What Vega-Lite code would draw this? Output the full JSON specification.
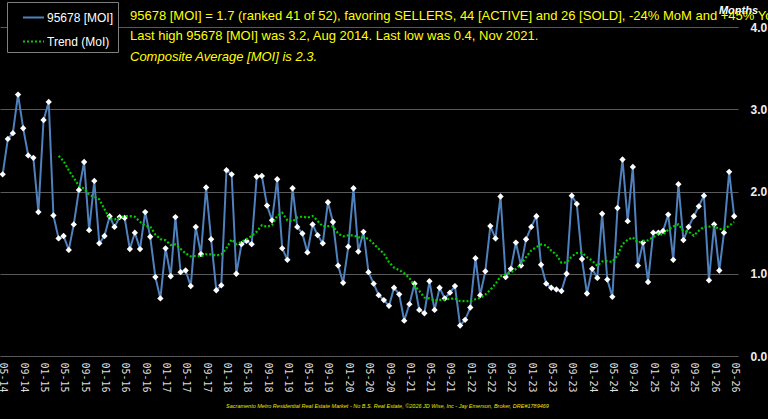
{
  "$schema": "https://vega.github.io/schema/vega-lite/v6.json",
  "autosize": {"type": "none"},
  "width": 738,
  "height": 356,
  "padding": {"left": 0, "top": 0, "right": 30, "bottom": 63},
  "background": "#000000",
  "config": {
    "view": {"stroke": null},
    "font": "Liberation Sans",
    "legend": {
      "fillColor": "#000000",
      "strokeColor": "#7f7f7f",
      "padding": 4,
      "symbolType": "stroke",
      "symbolSize": 441,
      "symbolStrokeWidth": 2,
      "symbolOffset": 11,
      "labelOffset": 2,
      "labelFont": "Liberation Sans",
      "labelFontSize": 12,
      "labelColor": "#ffffff",
      "rowPadding": 6
    },
    "axisY": {
      "grid": true,
      "gridColor": "#5a5a5a",
      "gridWidth": 1.2,
      "domain": false,
      "ticks": false,
      "labelPadding": 12,
      "labelFont": "Liberation Sans",
      "labelFontSize": 12,
      "labelFontWeight": "bold",
      "labelColor": "#eeeeee",
      "labelAlign": "left",
      "labelBaseline": "middle",
      "titleAngle": 0,
      "titleX": 0,
      "titleY": 13,
      "titleAlign": "center",
      "titleBaseline": "alphabetic",
      "titleFont": "Liberation Sans",
      "titleFontSize": 11,
      "titleFontStyle": "italic",
      "titleFontWeight": "bold",
      "titleColor": "#ffffff"
    }
  },
  "title": {
    "text": [
      "95678 [MOI] = 1.7 (ranked 41 of 52), favoring SELLERS, 44 [ACTIVE] and 26 [SOLD], -24% MoM and +45% YoY",
      "Last high 95678 [MOI] was 3.2, Aug 2014. Last low was 0.4, Nov 2021."
    ],
    "subtitle": "Composite Average [MOI] is 2.3.",
    "anchor": "start",
    "frame": "group",
    "orient": "top",
    "dx": 130,
    "offset": -64,
    "font": "Liberation Sans",
    "fontSize": 13,
    "fontWeight": "normal",
    "color": "#ffff00",
    "lineHeight": 19.7,
    "subtitleFont": "Liberation Sans",
    "subtitleFontSize": 13,
    "subtitleFontStyle": "italic",
    "subtitleColor": "#ffff00",
    "subtitlePadding": 8
  },
  "data": {
    "format": {"parse": {"month": "date:'%Y-%m'"}},
    "values": [
      {"month": "2014-05", "moi": 2.21}, {"month": "2014-06", "moi": 2.64}, {"month": "2014-07", "moi": 2.71}, {"month": "2014-08", "moi": 3.18},
      {"month": "2014-09", "moi": 2.77}, {"month": "2014-10", "moi": 2.44}, {"month": "2014-11", "moi": 2.41}, {"month": "2014-12", "moi": 1.75},
      {"month": "2015-01", "moi": 2.87}, {"month": "2015-02", "moi": 3.09}, {"month": "2015-03", "moi": 1.71}, {"month": "2015-04", "moi": 1.43},
      {"month": "2015-05", "moi": 1.46}, {"month": "2015-06", "moi": 1.29}, {"month": "2015-07", "moi": 1.60}, {"month": "2015-08", "moi": 2.02},
      {"month": "2015-09", "moi": 2.36}, {"month": "2015-10", "moi": 1.53}, {"month": "2015-11", "moi": 2.13}, {"month": "2015-12", "moi": 1.37},
      {"month": "2016-01", "moi": 1.46}, {"month": "2016-02", "moi": 1.70}, {"month": "2016-03", "moi": 1.57}, {"month": "2016-04", "moi": 1.69},
      {"month": "2016-05", "moi": 1.68}, {"month": "2016-06", "moi": 1.30}, {"month": "2016-07", "moi": 1.50}, {"month": "2016-08", "moi": 1.30},
      {"month": "2016-09", "moi": 1.75}, {"month": "2016-10", "moi": 1.45}, {"month": "2016-11", "moi": 0.96}, {"month": "2016-12", "moi": 0.70},
      {"month": "2017-01", "moi": 1.31}, {"month": "2017-02", "moi": 0.97}, {"month": "2017-03", "moi": 1.69}, {"month": "2017-04", "moi": 1.02},
      {"month": "2017-05", "moi": 1.04}, {"month": "2017-06", "moi": 0.85}, {"month": "2017-07", "moi": 1.57}, {"month": "2017-08", "moi": 1.24},
      {"month": "2017-09", "moi": 2.05}, {"month": "2017-10", "moi": 1.42}, {"month": "2017-11", "moi": 0.80}, {"month": "2017-12", "moi": 0.86},
      {"month": "2018-01", "moi": 2.26}, {"month": "2018-02", "moi": 2.21}, {"month": "2018-03", "moi": 1.00}, {"month": "2018-04", "moi": 1.36},
      {"month": "2018-05", "moi": 1.40}, {"month": "2018-06", "moi": 1.36}, {"month": "2018-07", "moi": 2.18}, {"month": "2018-08", "moi": 2.19},
      {"month": "2018-09", "moi": 1.83}, {"month": "2018-10", "moi": 1.65}, {"month": "2018-11", "moi": 2.15}, {"month": "2018-12", "moi": 1.31},
      {"month": "2019-01", "moi": 1.17}, {"month": "2019-02", "moi": 2.04}, {"month": "2019-03", "moi": 1.57}, {"month": "2019-04", "moi": 1.49},
      {"month": "2019-05", "moi": 1.26}, {"month": "2019-06", "moi": 1.60}, {"month": "2019-07", "moi": 1.47}, {"month": "2019-08", "moi": 1.37},
      {"month": "2019-09", "moi": 1.87}, {"month": "2019-10", "moi": 1.63}, {"month": "2019-11", "moi": 1.10}, {"month": "2019-12", "moi": 0.89},
      {"month": "2020-01", "moi": 1.33}, {"month": "2020-02", "moi": 2.04}, {"month": "2020-03", "moi": 1.27}, {"month": "2020-04", "moi": 1.51},
      {"month": "2020-05", "moi": 1.02}, {"month": "2020-06", "moi": 0.88}, {"month": "2020-07", "moi": 0.74}, {"month": "2020-08", "moi": 0.68},
      {"month": "2020-09", "moi": 0.61}, {"month": "2020-10", "moi": 0.83}, {"month": "2020-11", "moi": 0.75}, {"month": "2020-12", "moi": 0.43},
      {"month": "2021-01", "moi": 0.63}, {"month": "2021-02", "moi": 0.88}, {"month": "2021-03", "moi": 0.56}, {"month": "2021-04", "moi": 0.52},
      {"month": "2021-05", "moi": 0.91}, {"month": "2021-06", "moi": 0.56}, {"month": "2021-07", "moi": 0.83}, {"month": "2021-08", "moi": 0.70},
      {"month": "2021-09", "moi": 0.77}, {"month": "2021-10", "moi": 0.85}, {"month": "2021-11", "moi": 0.37}, {"month": "2021-12", "moi": 0.44},
      {"month": "2022-01", "moi": 0.59}, {"month": "2022-02", "moi": 1.19}, {"month": "2022-03", "moi": 0.74}, {"month": "2022-04", "moi": 1.03},
      {"month": "2022-05", "moi": 1.58}, {"month": "2022-06", "moi": 1.43}, {"month": "2022-07", "moi": 1.94}, {"month": "2022-08", "moi": 0.96},
      {"month": "2022-09", "moi": 1.06}, {"month": "2022-10", "moi": 1.38}, {"month": "2022-11", "moi": 1.10}, {"month": "2022-12", "moi": 1.42},
      {"month": "2023-01", "moi": 1.57}, {"month": "2023-02", "moi": 1.70}, {"month": "2023-03", "moi": 1.11}, {"month": "2023-04", "moi": 0.88},
      {"month": "2023-05", "moi": 0.83}, {"month": "2023-06", "moi": 0.81}, {"month": "2023-07", "moi": 0.79}, {"month": "2023-08", "moi": 1.00},
      {"month": "2023-09", "moi": 1.95}, {"month": "2023-10", "moi": 1.85}, {"month": "2023-11", "moi": 1.18}, {"month": "2023-12", "moi": 0.76},
      {"month": "2024-01", "moi": 1.06}, {"month": "2024-02", "moi": 0.95}, {"month": "2024-03", "moi": 1.73}, {"month": "2024-04", "moi": 0.93},
      {"month": "2024-05", "moi": 0.72}, {"month": "2024-06", "moi": 1.80}, {"month": "2024-07", "moi": 2.39}, {"month": "2024-08", "moi": 1.64},
      {"month": "2024-09", "moi": 2.30}, {"month": "2024-10", "moi": 1.10}, {"month": "2024-11", "moi": 1.38}, {"month": "2024-12", "moi": 0.90},
      {"month": "2025-01", "moi": 1.50}, {"month": "2025-02", "moi": 1.50}, {"month": "2025-03", "moi": 1.52}, {"month": "2025-04", "moi": 1.72},
      {"month": "2025-05", "moi": 1.17}, {"month": "2025-06", "moi": 2.09}, {"month": "2025-07", "moi": 1.41}, {"month": "2025-08", "moi": 1.57},
      {"month": "2025-09", "moi": 1.70}, {"month": "2025-10", "moi": 1.82}, {"month": "2025-11", "moi": 1.95}, {"month": "2025-12", "moi": 0.92},
      {"month": "2026-01", "moi": 1.60}, {"month": "2026-02", "moi": 1.04}, {"month": "2026-03", "moi": 1.50}, {"month": "2026-04", "moi": 2.24},
      {"month": "2026-05", "moi": 1.70}
    ]
  },
  "transform": [
    {
      "window": [{"op": "mean", "field": "moi", "as": "trend"}, {"op": "count", "as": "span"}],
      "frame": [-11, 0],
      "sort": [{"field": "month"}]
    }
  ],
  "encoding": {
    "x": {
      "field": "month",
      "type": "temporal",
      "scale": {"domain": [{"year": 2014, "month": "apr", "date": 15}, {"year": 2026, "month": "may", "date": 24}]},
      "axis": {
        "tickCount": {"interval": "month", "step": 4},
        "format": "%m-%y",
        "labelAngle": 90,
        "labelAlign": "left",
        "labelBaseline": "middle",
        "labelPadding": 6,
        "labelFont": "DejaVu Sans Mono",
        "labelFontSize": 10,
        "labelColor": "#dddddd",
        "labelOverlap": false,
        "labelFlush": false,
        "ticks": false,
        "domain": false,
        "grid": false,
        "title": "Sacramento Metro Residential Real Estate Market - No B.S. Real Estate, ©2026 JD Wise, Inc - Jay Emerson, Broker, DRE#1789469",
        "titleX": 387,
        "titleY": 51,
        "titleAlign": "center",
        "titleBaseline": "alphabetic",
        "titleFont": "Liberation Sans",
        "titleFontSize": 5.5,
        "titleFontStyle": "italic",
        "titleFontWeight": "normal",
        "titleColor": "#e8e800"
      }
    }
  },
  "layer": [
    {
      "mark": {"type": "line", "strokeWidth": 2},
      "encoding": {
        "y": {
          "field": "moi",
          "type": "quantitative",
          "title": "Months",
          "scale": {"domain": [0, 4.33], "nice": false, "zero": true},
          "axis": {"orient": "right", "values": [0, 1, 2, 3, 4], "format": ".1f"}
        },
        "color": {
          "datum": "95678 [MOI]",
          "scale": {"domain": ["95678 [MOI]", "Trend (MoI)"], "range": ["#4f81bd", "#00cc00"]},
          "legend": {"orient": "none", "legendX": 7, "legendY": 2, "title": null, "labelExpr": "datum.label + '\u00a0\u00a0\u00a0\u00a0'"}
        },
        "strokeDash": {
          "datum": "95678 [MOI]",
          "scale": {"domain": ["95678 [MOI]", "Trend (MoI)"], "range": [[1, 0], [2, 2]]},
          "legend": {"orient": "none", "legendX": 7, "legendY": 2, "title": null, "labelExpr": "datum.label + '\u00a0\u00a0\u00a0\u00a0'"}
        }
      }
    },
    {
      "mark": {"type": "point", "shape": "diamond", "filled": true, "fill": "#ffffff", "size": 40, "opacity": 1},
      "encoding": {
        "y": {
          "field": "moi",
          "type": "quantitative",
          "title": "Months",
          "scale": {"domain": [0, 4.33], "nice": false, "zero": true},
          "axis": {"orient": "right", "values": [0, 1, 2, 3, 4], "format": ".1f"}
        }
      }
    },
    {
      "transform": [{"filter": "datum.span >= 12"}],
      "mark": {"type": "line", "strokeWidth": 2.2, "strokeCap": "butt"},
      "encoding": {
        "y": {
          "field": "trend",
          "type": "quantitative",
          "title": "Months",
          "scale": {"domain": [0, 4.33], "nice": false, "zero": true},
          "axis": {"orient": "right", "values": [0, 1, 2, 3, 4], "format": ".1f"}
        },
        "color": {"datum": "Trend (MoI)"},
        "strokeDash": {"datum": "Trend (MoI)"}
      }
    }
  ]
}
